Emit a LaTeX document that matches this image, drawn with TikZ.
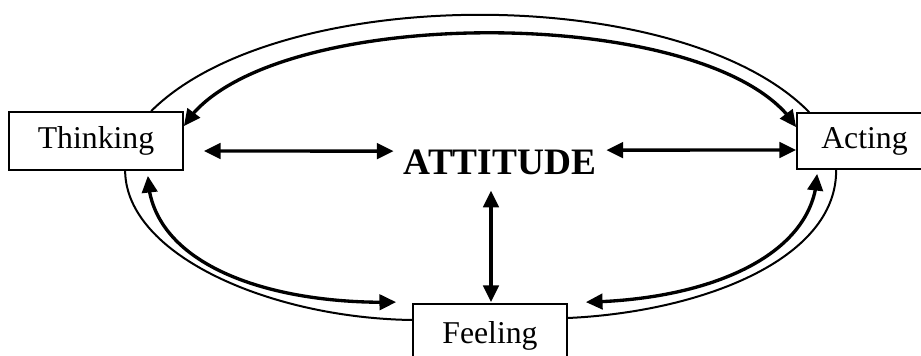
\documentclass[tikz,border=0pt]{standalone}
\usepackage{fontspec}
\setmainfont{Liberation Serif}
\usetikzlibrary{arrows.meta,calc,bending}
\begin{document}
\begin{tikzpicture}[x=0.75pt,y=-0.75pt,
  box/.style={draw,line width=1.3pt,inner sep=0pt,fill=white,font=\fontsize{23.8}{28}\selectfont},
  thin/.style={line width=1.5pt},
  thick2/.style={line width=2.5pt,{Triangle[length=12.5pt,width=11.5pt]}-{Triangle[length=12.5pt,width=11.5pt]}}]
\clip (0,0) rectangle (921,356);
\fill[white] (0,0) rectangle (921,356);
\node[box,minimum width=130.5pt,minimum height=43.5pt] (think) at (96,141) {Thinking};
\node[box,minimum width=101.25pt,minimum height=42pt] (act) at (864.5,141) {Acting};
\node[box,minimum width=115.5pt,minimum height=48pt] (feel) at (490,336) {Feeling};
\node[anchor=base,inner sep=0pt,font=\bfseries\fontsize{28}{32}\selectfont] (att) at (500,175) {ATTITUDE};
% outer thin arcs
\draw[thin] ($(think.north west)+(143,0)$) .. controls (280,-17.5) and (682,-17.5) .. ($(act.north west)+(13,0)$);
\draw[thin] ($(think.south west)+(117,0)$) .. controls (126,255) and (270,318) .. ($(feel.west)+(0,-16)$);
\draw[thin] ($(act.south west)+(40,0)$) .. controls (837,260) and (700,312) .. ($(feel.east)+(0,-18)$);
% inner thick double arrows
\draw[thick2] ($(think.north east)+(0,15)$) .. controls (260,1.5) and (720,1.5) .. ($(act.north west)+(0,15)$);
\draw[thick2] ($(think.south east)+(-36,5)$) .. controls (150,265) and (270,305) .. ($(feel.north west)+(-16,-1)$);
\draw[thick2] ($(act.south west)+(21,4)$) .. controls (815,255) and (710,300) .. ($(feel.north east)+(18,-1)$);
% straight arrows
\draw[thick2] ($(think.east)+(20,10)$) -- ($(att.west)+(-10,-11.7)$);
\draw[thick2] ($(att.east)+(10,-12.7)$) -- ($(act.west)+(0,9)$);
\draw[thick2] ($(att.south)+(-9,15)$) -- ($(feel.north)+(1,-1)$);
\end{tikzpicture}
\end{document}
